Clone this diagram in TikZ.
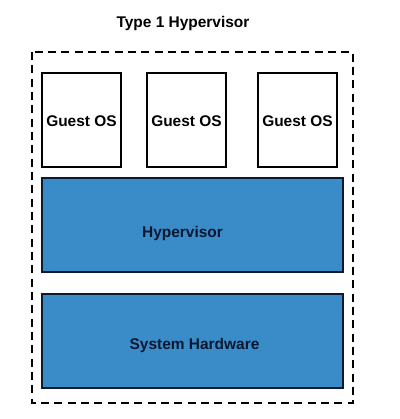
\documentclass[tikz,border=0pt]{standalone}
\usepackage{fontspec}
\setmainfont{Liberation Sans}
\definecolor{hvblue}{HTML}{3A8CC8}
\definecolor{hvedge}{HTML}{0D1A2E}
\definecolor{hvtext}{HTML}{0B1730}
\begin{document}
\begin{tikzpicture}[x=0.75pt,y=-0.75pt,
  lbl/.style={font=\fontsize{11.6}{14}\selectfont\bfseries,anchor=base,inner sep=0pt},
  guestbox/.style={draw=black,line width=0.8pt,fill=white},
  bluebox/.style={draw=hvedge,line width=1.5pt,fill=hvblue},
  outerbox/.style={draw=black,line width=1.5pt,dash pattern=on 6pt off 4pt}]
\useasboundingbox[fill=white] (0,0) rectangle (400,419);
\node[lbl] (title) at (183,27.5) {Type 1 Hypervisor};
\draw[outerbox] (32,52) rectangle (353,403);
\draw[guestbox] (42,73) rectangle (121,167);
\draw[guestbox] (147,73) rectangle (226,167);
\draw[guestbox] (258,73) rectangle (337,167);
\node[lbl] (g1) at (81.5,126) {Guest OS};
\node[lbl] (g2) at (186.5,126) {Guest OS};
\node[lbl] (g3) at (297.5,126) {Guest OS};
\draw[bluebox] (42,178) rectangle (343,272);
\draw[bluebox] (42,294) rectangle (343,388);
\node[lbl,text=hvtext] (hv) at (182.5,237) {Hypervisor};
\node[lbl,text=hvtext] (hw) at (194.5,349) {System Hardware};
\end{tikzpicture}
\end{document}
